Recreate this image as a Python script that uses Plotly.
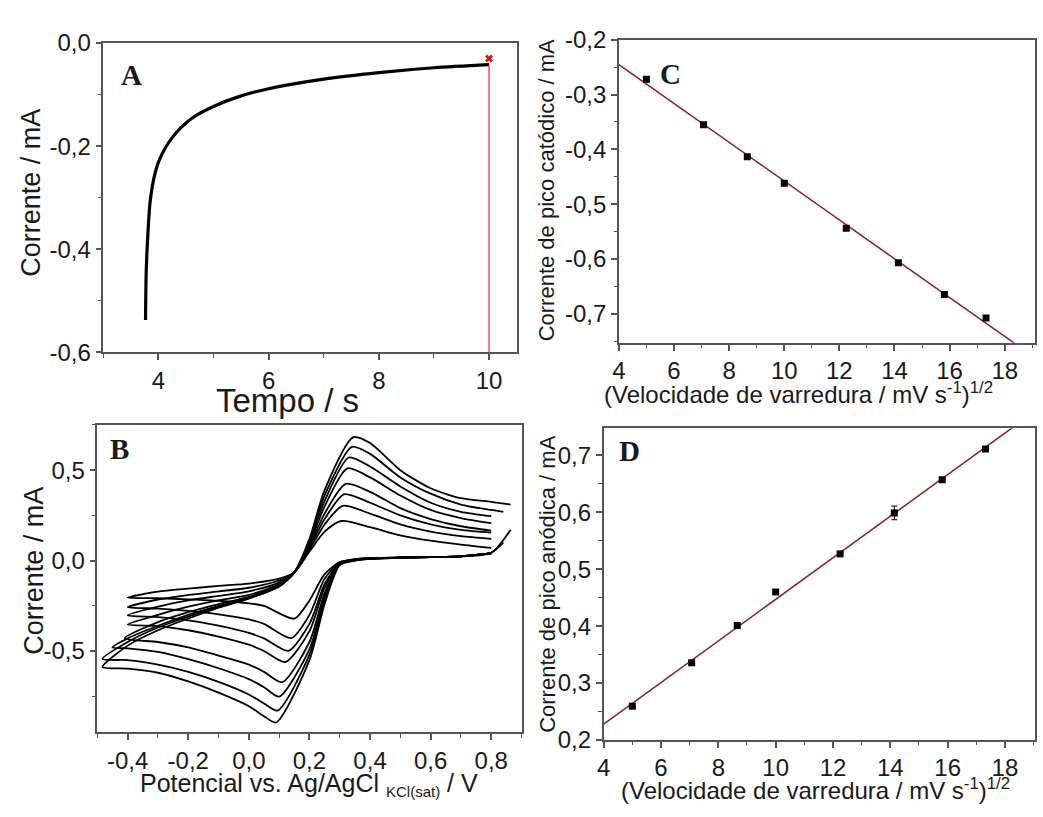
import numpy as np
import plotly.graph_objects as go

W, H = 1043, 817
SANS = "Liberation Sans, Arial, sans-serif"
SERIF = "Liberation Serif, Times New Roman, serif"
AX = "#555555"
FIT = "#8b2020"

# ---------------- Panel A: chronoamperometry ----------------
ca_time = [3.766, 3.778, 3.809, 3.85, 3.928, 4.018, 4.26, 4.62, 4.998, 5.46, 6.0, 7.0, 8.0, 9.0, 10.0]
ca_current = [-0.537, -0.444, -0.369, -0.307, -0.257, -0.226, -0.182, -0.145, -0.123, -0.104,
              -0.0886, -0.070, -0.0574, -0.048, -0.042]
cursor_t = [10.0, 10.0]
cursor_i = [-0.042, -0.6]
cross_t = [10.0]
cross_i = [-0.030]

# ---------------- Panel B: cyclic voltammograms ----------------
cv_e_min = [-0.40, -0.40, -0.40, -0.40, -0.41, -0.45, -0.483, -0.483]
cv_i_min = [-0.205, -0.258, -0.303, -0.353, -0.43, -0.48, -0.544, -0.588]
cv_e_max = [0.80, 0.80, 0.80, 0.80, 0.80, 0.80, 0.84, 0.864]
cv_i_end = [0.07, 0.12, 0.155, 0.166, 0.207, 0.246, 0.27, 0.31]      # anodic scan end
cv_ic_start = [0.04, 0.04, 0.04, 0.04, 0.04, 0.04, 0.10, 0.17]      # cathodic scan start
cv_epa = [0.305, 0.31, 0.315, 0.32, 0.325, 0.33, 0.34, 0.345]
cv_ipa = [0.219, 0.303, 0.367, 0.424, 0.510, 0.570, 0.629, 0.683]
cv_epc = [0.15, 0.14, 0.13, 0.12, 0.11, 0.10, 0.095, 0.09]
cv_ipc = [-0.321, -0.428, -0.499, -0.561, -0.672, -0.752, -0.829, -0.895]

anodic_e = [-0.4, -0.3, -0.2, -0.1, 0.0, 0.1, 0.15, 0.2, 0.25, 0.4, 0.5, 0.6, 0.7, 0.8]
anodic_i = [
    [None, -0.172, -0.155, -0.14, -0.127, -0.10, -0.065, 0.05, 0.16, 0.185, 0.14, 0.11, 0.088, None],
    [None, -0.215, -0.19, -0.17, -0.15, -0.11, -0.065, 0.06, 0.20, 0.26, 0.20, 0.16, 0.135, None],
    [None, -0.255, -0.22, -0.195, -0.17, -0.12, -0.065, 0.07, 0.23, 0.32, 0.25, 0.20, 0.17, None],
    [None, -0.30, -0.255, -0.22, -0.19, -0.13, -0.065, 0.08, 0.26, 0.38, 0.29, 0.23, 0.19, None],
    [None, -0.34, -0.285, -0.24, -0.20, -0.135, -0.065, 0.09, 0.30, 0.46, 0.36, 0.28, 0.235, None],
    [-0.43, -0.36, -0.30, -0.25, -0.205, -0.14, -0.065, 0.10, 0.33, 0.52, 0.41, 0.32, 0.27, None],
    [-0.45, -0.37, -0.31, -0.255, -0.205, -0.14, -0.065, 0.11, 0.36, 0.59, 0.46, 0.37, 0.31, 0.28],
    [-0.47, -0.385, -0.32, -0.26, -0.21, -0.145, -0.065, 0.12, 0.39, 0.65, 0.50, 0.40, 0.345, 0.325],
]
cathodic_e = [-0.4, -0.3, -0.2, -0.1, 0.0, 0.05, 0.2, 0.25, 0.3, 0.35, 0.4, 0.5, 0.6, 0.7, 0.8]
cathodic_i = [
    [None, -0.208, -0.214, -0.222, -0.236, -0.25, -0.22, -0.075, -0.008, 0.008, 0.014, 0.018, 0.02, 0.024, None],
    [None, -0.265, -0.278, -0.297, -0.325, -0.35, -0.30, -0.10, -0.01, 0.007, 0.013, 0.017, 0.02, 0.024, None],
    [None, -0.312, -0.33, -0.36, -0.40, -0.43, -0.35, -0.13, -0.012, 0.006, 0.012, 0.017, 0.02, 0.024, None],
    [None, -0.362, -0.385, -0.42, -0.465, -0.50, -0.39, -0.15, -0.014, 0.005, 0.012, 0.017, 0.02, 0.024, None],
    [None, -0.45, -0.48, -0.525, -0.575, -0.615, -0.45, -0.18, -0.016, 0.004, 0.011, 0.017, 0.02, 0.024, None],
    [-0.485, -0.505, -0.545, -0.595, -0.655, -0.70, -0.49, -0.20, -0.018, 0.003, 0.011, 0.017, 0.02, 0.024, None],
    [-0.55, -0.575, -0.615, -0.67, -0.74, -0.79, -0.52, -0.22, -0.02, 0.002, 0.01, 0.016, 0.02, 0.024, 0.045],
    [-0.597, -0.62, -0.668, -0.73, -0.805, -0.86, -0.55, -0.24, -0.025, 0.0, 0.01, 0.016, 0.02, 0.024, 0.042],
]

# ---------------- Panels C and D: peak currents ----------------
sqrt_v = [5.0, 7.07, 8.66, 10.0, 12.25, 14.14, 15.81, 17.32]
ipc_C = [-0.272, -0.355, -0.4135, -0.462, -0.544, -0.607, -0.665, -0.708]
ipc_err = [0.005, 0.003, 0.003, 0.003, 0.004, 0.003, 0.003, 0.003]
ipa_D = [0.259, 0.3355, 0.4013, 0.460, 0.527, 0.599, 0.6575, 0.7114]
ipa_err = [0.003, 0.003, 0.003, 0.003, 0.003, 0.012, 0.003, 0.003]

# tick labels
a_xticks, a_xtext = [4, 6, 8, 10], ["4", "6", "8", "10"]
a_yticks, a_ytext = [-0.6, -0.4, -0.2, 0.0], ["-0,6", "-0,4", "-0,2", "0,0"]
b_xticks = [-0.4, -0.2, 0.0, 0.2, 0.4, 0.6, 0.8]
b_xtext = ["-0,4", "-0,2", "0,0", "0,2", "0,4", "0,6", "0,8"]
b_yticks, b_ytext = [-0.5, 0.0, 0.5], ["-0,5", "0,0", "0,5"]
cd_xticks = [4, 6, 8, 10, 12, 14, 16, 18]
cd_xtext = ["4", "6", "8", "10", "12", "14", "16", "18"]
c_yticks = [-0.7, -0.6, -0.5, -0.4, -0.3, -0.2]
c_ytext = ["-0,7", "-0,6", "-0,5", "-0,4", "-0,3", "-0,2"]
d_yticks = [0.2, 0.3, 0.4, 0.5, 0.6, 0.7]
d_ytext = ["0,2", "0,3", "0,4", "0,5", "0,6", "0,7"]

fig = go.Figure()

# Panel A
fig.add_trace(go.Scatter(x=ca_time, y=ca_current, mode="lines",
                         line=dict(color="black", width=3.2, shape="spline", smoothing=0.8),
                         xaxis="x", yaxis="y", showlegend=False))
fig.add_trace(go.Scatter(x=cursor_t, y=cursor_i, mode="lines", line=dict(color="#e03030", width=1.2),
                         xaxis="x", yaxis="y", showlegend=False))
fig.add_trace(go.Scatter(x=cross_t, y=cross_i, mode="markers",
                         marker=dict(symbol="x", size=7, color="#e01010", line=dict(width=0)),
                         xaxis="x", yaxis="y", showlegend=False, cliponaxis=False))

# Panel B
for k in range(len(cv_e_min)):
    xs, ys = [cv_e_max[k]], [cv_ic_start[k]]
    cpts = [(e, i) for e, i in zip(cathodic_e, cathodic_i[k]) if i is not None]
    cpts.append((cv_epc[k], cv_ipc[k]))
    cpts.sort(key=lambda p: -p[0])
    for e, i in cpts:
        xs.append(e); ys.append(i)
    xs.append(cv_e_min[k]); ys.append(cv_i_min[k])
    apts = [(e, i) for e, i in zip(anodic_e, anodic_i[k]) if i is not None]
    apts.append((cv_epa[k], cv_ipa[k]))
    apts.sort(key=lambda p: p[0])
    for e, i in apts:
        xs.append(e); ys.append(i)
    xs.append(cv_e_max[k]); ys.append(cv_i_end[k])
    fig.add_trace(go.Scatter(x=xs, y=ys, mode="lines",
                             line=dict(color="black", width=1.8, shape="spline", smoothing=0.7),
                             xaxis="x3", yaxis="y3", showlegend=False))

# Panel C
sc, ic = np.polyfit(sqrt_v, ipc_C, 1)
fit_x = np.array([4.0, 19.1])
fig.add_trace(go.Scatter(x=fit_x, y=sc * fit_x + ic, mode="lines", line=dict(color=FIT, width=1.5),
                         xaxis="x2", yaxis="y2", showlegend=False))
fig.add_trace(go.Scatter(x=sqrt_v, y=ipc_C, mode="markers",
                         marker=dict(symbol="square", size=7, color="black"),
                         error_y=dict(type="data", array=ipc_err, color="black", thickness=1, width=3),
                         xaxis="x2", yaxis="y2", showlegend=False))

# Panel D
sd, idd = np.polyfit(sqrt_v, ipa_D, 1)
fit_xd = np.array([4.0, 19.05])
fig.add_trace(go.Scatter(x=fit_xd, y=sd * fit_xd + idd, mode="lines", line=dict(color=FIT, width=1.5),
                         xaxis="x4", yaxis="y4", showlegend=False))
fig.add_trace(go.Scatter(x=sqrt_v, y=ipa_D, mode="markers",
                         marker=dict(symbol="square", size=7, color="black"),
                         error_y=dict(type="data", array=ipa_err, color="black", thickness=1, width=3),
                         xaxis="x4", yaxis="y4", showlegend=False))


def px_x(a, b):
    return [a / W, b / W]


def px_y(top, bottom):
    return [1 - bottom / H, 1 - top / H]


def ax(domain, rng, tv, tt, minor_dtick, minor_tick0, anchor):
    return dict(domain=domain, range=rng, anchor=anchor, tickmode="array", tickvals=tv, ticktext=tt,
                showline=True, linecolor=AX, linewidth=1.5, mirror=True,
                ticks="outside", ticklen=6, tickwidth=1.5, tickcolor=AX,
                showgrid=False, zeroline=False,
                tickfont=dict(family=SANS, size=24, color="#1a1a1a"),
                minor=dict(ticks="outside", ticklen=3.5, tickwidth=1.2, tickcolor=AX,
                           dtick=minor_dtick, tick0=minor_tick0, showgrid=False))


fig.update_layout(
    width=W, height=H, margin=dict(l=0, r=0, t=0, b=0),
    paper_bgcolor="white", plot_bgcolor="white", showlegend=False,
    xaxis=ax(px_x(97, 513), [3, 10.5], a_xticks, a_xtext, 1, 3, "y"),
    yaxis=ax(px_y(30, 350), [-0.6, 0.0], a_yticks, a_ytext, 0.1, 0, "x"),
    xaxis2=ax(px_x(616, 1035), [4, 19.1], cd_xticks, cd_xtext, 1, 4, "y2"),
    yaxis2=ax(px_y(26.7, 340), [-0.753, -0.2], c_yticks, c_ytext, 0.05, -0.2, "x2"),
    xaxis3=ax(px_x(91, 518), [-0.5, 0.9], b_xticks, b_xtext, 0.1, 0, "y3"),
    yaxis3=ax(px_y(425, 743), [-0.95, 0.75], b_yticks, b_ytext, 0.25, 0, "x3"),
    xaxis4=ax(px_x(600.7, 1035), [4, 19.05], cd_xticks, cd_xtext, 1, 4, "y4"),
    yaxis4=ax(px_y(428.3, 750.7), [0.2, 0.748], d_yticks, d_ytext, 0.05, 0.2, "x4"),
)


def note(text, x, y, size, angle=0, family=SANS):
    fig.add_annotation(text=text, x=x / W, y=1 - y / H, xref="paper", yref="paper",
                       xanchor="center", yanchor="middle", showarrow=False, textangle=angle,
                       font=dict(family=family, size=size, color="#1a1a1a"))


# axis titles
note("Corrente / mA", 24, 185, 27, -90)
note("Tempo / s", 282, 400, 33)
note("Corrente de pico catódico / mA", 544, 182, 22, -90)
note("(Velocidade de varredura / mV s<sup>-1</sup>)<sup>1/2</sup>", 797, 392, 24)
note("Corrente / mA", 27, 576, 27, -90)
note("Potencial vs. Ag/AgCl <sub><span style='font-size:15px'>KCl(sat)</span></sub> / V", 304, 797, 25)
note("Corrente de pico anódica / mA", 544, 590, 22, -90)
note("(Velocidade de varredura / mV s<sup>-1</sup>)<sup>1/2</sup>", 814, 802, 24)

# panel letters
note("<b>A</b>", 125, 63, 29, family=SERIF)
note("<b>B</b>", 113, 450, 29, family=SERIF)
note("<b>C</b>", 668, 62, 29, family=SERIF)
note("<b>D</b>", 627, 452, 29, family=SERIF)

fig.write_html("out.html", config={"displayModeBar": False},
               post_script="document.body.style.margin='0px';document.body.style.overflow='hidden';")
